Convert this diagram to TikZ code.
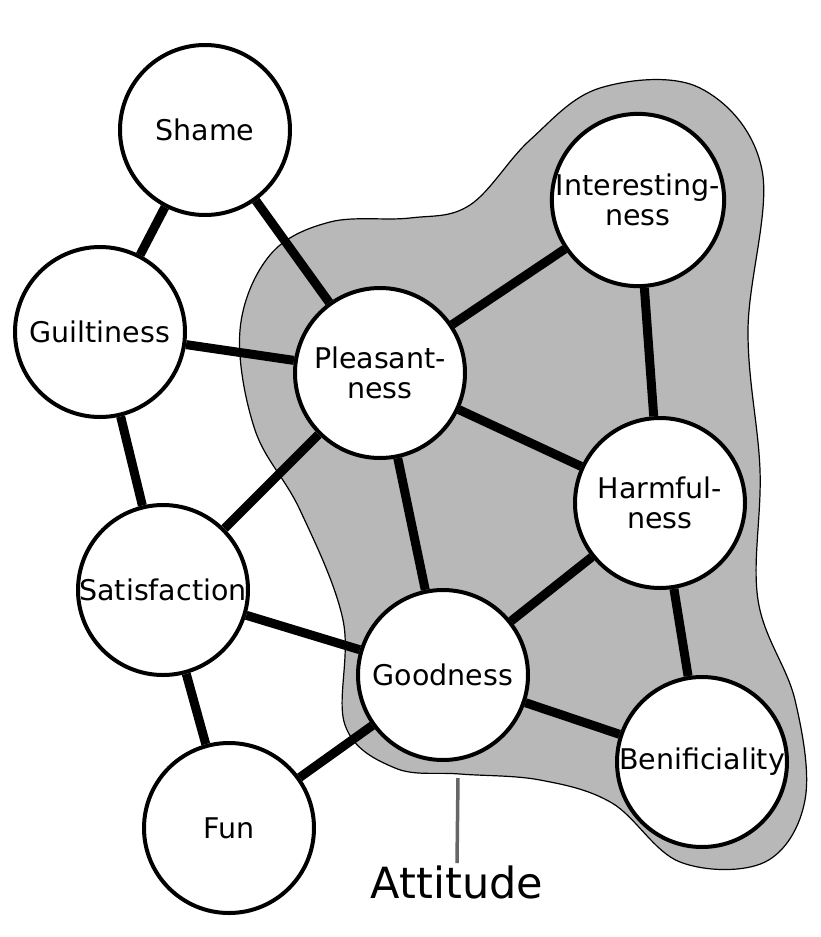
\documentclass[tikz,border=0pt]{standalone}
\usepackage{fontspec}
\setmainfont{DejaVu Sans}
\begin{document}
\begin{tikzpicture}[x=1pt,y=-1pt,
  n/.style={circle,draw=black,line width=4pt,fill=white,minimum size=170pt,inner sep=0pt,align=center,font=\fontsize{28.5}{30}\selectfont},
  e/.style={line width=9pt}]
\useasboundingbox (0,0) rectangle (820,937);
\fill[white] (0,0) rectangle (820,937);
\draw[fill=black!28,line width=1.2pt] plot[smooth cycle,tension=0.6] coordinates{
(240,330)(270,255)(330,222)(410,218)(470,205)(530,140)(600,88)(700,88)(762,170)(748,330)(760,470)(758,600)(795,700)(805,800)(765,862)(680,862)(612,803)(540,780)(460,774)(395,768)(345,725)(343,620)(300,510)(255,430)};
\node[n] (sh) at (205,130) {Shame};
\node[n] (gu) at (100,332) {Guiltiness};
\node[n] (pl) at (380,373) {Pleasant-\\ness};
\node[n] (in) at (638,200) {Interesting-\\ness};
\node[n] (ha) at (660,503) {Harmful-\\ness};
\node[n] (sa) at (163,590) {Satisfaction};
\node[n] (go) at (443,675) {Goodness};
\node[n] (be) at (702,762) {Benificiality};
\node[n] (fu) at (229,828) {Fun};
\foreach \a/\b in {sh/gu,sh/pl,gu/pl,gu/sa,sa/pl,sa/go,sa/fu,fu/go,pl/go,pl/in,pl/ha,in/ha,ha/go,ha/be,go/be}
  \draw[e] (\a) -- (\b);
\coordinate (a1) at (458,778);
\node[font=\fontsize{43}{46}\selectfont,inner sep=2pt] (att) at (457,882) {Attitude};
\draw[line width=3.5pt,black!60] (a1) -- (att.north);
\end{tikzpicture}
\end{document}
